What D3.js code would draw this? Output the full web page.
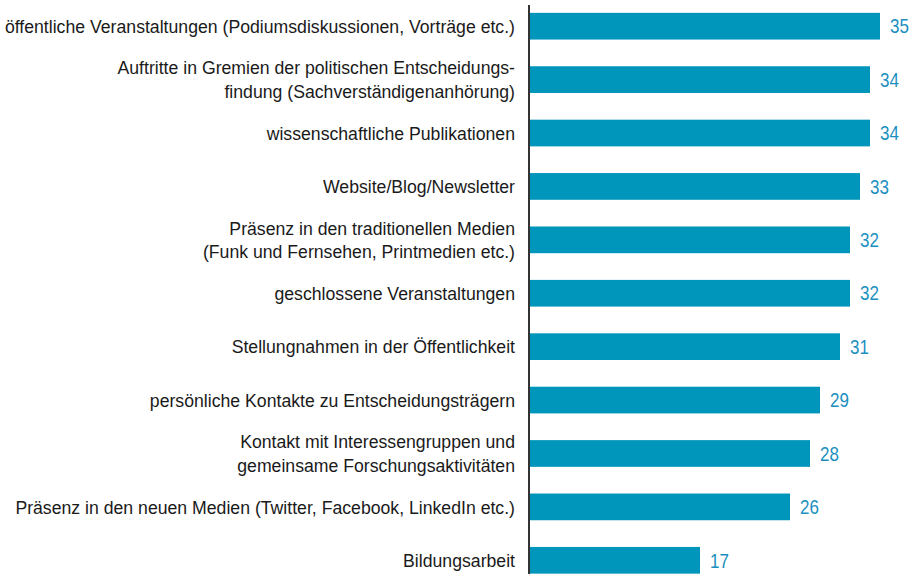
<!DOCTYPE html>
<html>
<head>
<meta charset="utf-8">
<script src="https://d3js.org/d3.v7.min.js"></script>
<style>
  body { margin: 0; background: #fff; }
  text { font-family: "Liberation Sans", Arial, sans-serif; }
</style>
</head>
<body>
<script>
// categories (each entry is a list of label lines)
var categories = [
  ["öffentliche Veranstaltungen (Podiumsdiskussionen, Vorträge etc.)"],
  ["Auftritte in Gremien der politischen Entscheidungs-", "findung (Sachverständigenanhörung)"],
  ["wissenschaftliche Publikationen"],
  ["Website/Blog/Newsletter"],
  ["Präsenz in den traditionellen Medien", "(Funk und Fernsehen, Printmedien etc.)"],
  ["geschlossene Veranstaltungen"],
  ["Stellungnahmen in der Öffentlichkeit"],
  ["persönliche Kontakte zu Entscheidungsträgern"],
  ["Kontakt mit Interessengruppen und", "gemeinsame Forschungsaktivitäten"],
  ["Präsenz in den neuen Medien (Twitter, Facebook, LinkedIn etc.)"],
  ["Bildungsarbeit"]
];
var values = [35, 34, 34, 33, 32, 32, 31, 29, 28, 26, 17];

var width = 914, height = 574;
var x0 = 530;
var labelScale = 0.955, valueScale = 0.85; // fake condensed face

var svg = d3.select('body').append('svg')
  .attr('width', width)
  .attr('height', height);

var x = d3.scaleLinear().domain([0, 35]).range([x0, 880]);
var y = d3.scaleBand()
  .domain(d3.range(values.length))
  .range([-0.5, 587])
  .paddingInner(0.5)
  .paddingOuter(0.25);

var rows = svg.selectAll('g.row')
  .data(values)
  .enter()
  .append('g')
  .attr('class', 'row');

rows.append('rect')
  .attr('x', x(0))
  .attr('y', function(d, i) { return y(i); })
  .attr('width', function(d) { return x(d) - x(0); })
  .attr('height', y.bandwidth())
  .style('fill', '#0095ba');

rows.append('text')
  .attr('transform', function(d, i) {
    return 'translate(' + (x(d) + 10) + ',' + (y(i) + y.bandwidth() / 2) + ') scale(' + valueScale + ',1)';
  })
  .attr('dy', '0.36em')
  .style('font-size', '20px')
  .style('fill', '#1b8fbf')
  .text(function(d) { return d; });

// category labels
rows.append('g')
  .attr('transform', function(d, i) {
    return 'translate(515,' + (y(i) + y.bandwidth() / 2) + ') scale(' + labelScale + ',1)';
  })
  .each(function(d, i) {
    var lines = categories[i];
    var t = d3.select(this).append('text')
      .attr('text-anchor', 'end')
      .style('font-size', '18.5px')
      .style('fill', '#1a1a1a');
    lines.forEach(function(line, k) {
      t.append('tspan')
        .attr('x', 0)
        .attr('y', (k - (lines.length - 1) / 2) * 24)
        .attr('dy', '0.36em')
        .text(line);
    });
  });

// axis line
svg.append('line')
  .attr('x1', 529).attr('x2', 529)
  .attr('y1', 5).attr('y2', height)
  .style('stroke', '#333')
  .style('stroke-width', 2);
</script>
</body>
</html>
